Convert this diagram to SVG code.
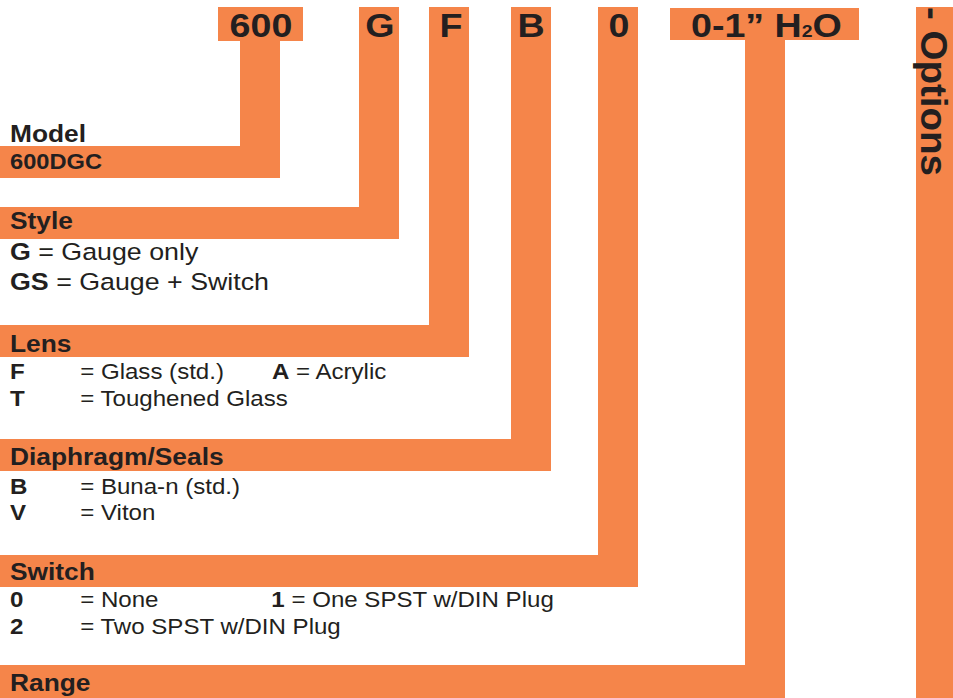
<svg xmlns="http://www.w3.org/2000/svg" width="953" height="698" viewBox="0 0 953 698">
<style>
.o{fill:#f5854a}
text{font-family:"Liberation Sans",Arial,Helvetica,sans-serif;fill:#231f20}
.code{font-size:33px;font-weight:bold;text-anchor:middle}
.h{font-size:24.5px;font-weight:bold}
.sub{font-size:21.5px;font-weight:bold}
.opt{font-size:22.3px}
.sty{font-size:23.3px}
.b{font-weight:bold}
</style>
<rect width="953" height="698" fill="#ffffff"/>

<g id="connectors" class="o">
  <rect x="240" y="40" width="40" height="138"/>
  <rect x="359" y="40" width="40" height="199"/>
  <rect x="429" y="40" width="40" height="317"/>
  <rect x="511" y="40" width="40" height="431"/>
  <rect x="598" y="40" width="40" height="547"/>
  <rect x="745" y="39" width="40" height="659"/>
</g>

<g id="code-600">
  <rect class="o" x="218" y="7" width="85" height="34"/>
  <text class="code" transform="translate(261 37) scale(1.14 1)">600</text>
</g>
<g id="code-G">
  <rect class="o" x="359" y="7" width="40" height="34"/>
  <text class="code" transform="translate(380 37) scale(1.14 1)">G</text>
</g>
<g id="code-F">
  <rect class="o" x="429" y="7" width="40" height="34"/>
  <text class="code" transform="translate(451 37) scale(1.14 1)">F</text>
</g>
<g id="code-B">
  <rect class="o" x="511" y="7" width="40" height="34"/>
  <text class="code" transform="translate(531 37) scale(1.14 1)">B</text>
</g>
<g id="code-0">
  <rect class="o" x="598" y="7" width="40" height="34"/>
  <text class="code" transform="translate(619 37) scale(1.14 1)">0</text>
</g>
<g id="code-range">
  <rect class="o" x="670" y="8" width="189" height="32"/>
  <text class="code" style="text-anchor:start" transform="translate(691 37) scale(1.14 1)">0-1” H<tspan font-size="17">2</tspan>O</text>
</g>
<g id="code-options">
  <rect class="o" x="916" y="7" width="37" height="691"/>
  <text style="font-size:36px;font-weight:bold" transform="translate(921 7) rotate(90) scale(1.07 1)">- Options</text>
</g>

<g id="field-model">
  <rect class="o" x="0" y="146" width="280" height="32"/>
  <text class="h" transform="translate(10 142) scale(1.075 1)">Model</text>
  <text class="sub" transform="translate(10 169) scale(1.1 1)">600DGC</text>
</g>

<g id="field-style">
  <rect class="o" x="0" y="207" width="399" height="32"/>
  <text class="h" transform="translate(10 229) scale(1.075 1)">Style</text>
  <text class="sty" transform="translate(10 260) scale(1.15 1)"><tspan class="b">G</tspan> = Gauge only</text>
  <text class="sty" transform="translate(10 290) scale(1.15 1)"><tspan class="b">GS</tspan> = Gauge + Switch</text>
</g>

<g id="field-lens">
  <rect class="o" x="0" y="325" width="469" height="32"/>
  <text class="h" transform="translate(10 352) scale(1.075 1)">Lens</text>
  <text class="opt" transform="translate(10 379) scale(1.08 1)"><tspan class="b">F</tspan><tspan x="65">= Glass (std.)</tspan><tspan class="b" x="242.6">A</tspan> = Acrylic</text>
  <text class="opt" transform="translate(10 406) scale(1.08 1)"><tspan class="b">T</tspan><tspan x="65">= Toughened Glass</tspan></text>
</g>

<g id="field-diaphragm">
  <rect class="o" x="0" y="439" width="551" height="32"/>
  <text class="h" transform="translate(10 465) scale(1.075 1)">Diaphragm/Seals</text>
  <text class="opt" transform="translate(10 494) scale(1.08 1)"><tspan class="b">B</tspan><tspan x="65">= Buna-n (std.)</tspan></text>
  <text class="opt" transform="translate(10 520) scale(1.08 1)"><tspan class="b">V</tspan><tspan x="65">= Viton</tspan></text>
</g>

<g id="field-switch">
  <rect class="o" x="0" y="555" width="638" height="32"/>
  <text class="h" transform="translate(10 580) scale(1.075 1)">Switch</text>
  <text class="opt" transform="translate(10 607) scale(1.08 1)"><tspan class="b">0</tspan><tspan x="65">= None</tspan><tspan class="b" x="242">1</tspan> = One SPST w/DIN Plug</text>
  <text class="opt" transform="translate(10 634) scale(1.08 1)"><tspan class="b">2</tspan><tspan x="65">= Two SPST w/DIN Plug</tspan></text>
</g>

<g id="field-range">
  <rect class="o" x="0" y="665" width="785" height="33"/>
  <text class="h" transform="translate(10 691) scale(1.075 1)">Range</text>
</g>
</svg>
